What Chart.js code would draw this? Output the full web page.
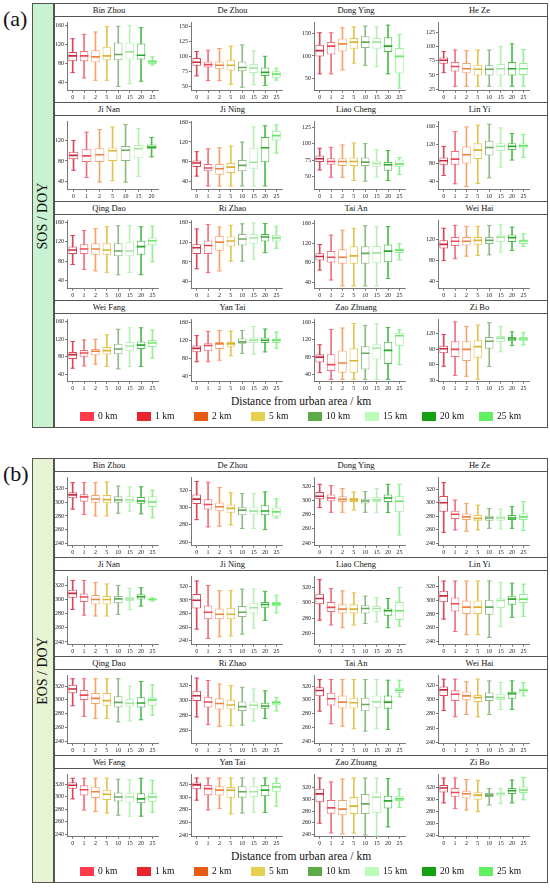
<!DOCTYPE html>
<html>
<head>
<meta charset="utf-8">
<script src="https://cdn.jsdelivr.net/npm/chart.js@4.4.1/dist/chart.umd.min.js"></script>
<style>
  html, body { margin:0; padding:0; background:#fff; }
  #fig { position:relative; width:550px; height:888px; font-family:"Liberation Serif","Times New Roman","DejaVu Serif",serif; color:#111; }
  #fig > * { position:absolute; box-sizing:border-box; }
  canvas { position:absolute; }
</style>
</head>
<body>
<div id="fig"></div>
<script>
const cities = ['Bin Zhou','De Zhou','Dong Ying','He Ze','Ji Nan','Ji Ning','Liao Cheng','Lin Yi',
  'Qing Dao','Ri Zhao','Tai An','Wei Hai','Wei Fang','Yan Tai','Zao Zhuang','Zi Bo'];
const distances = ['0','1','2','5','10','15','20','25'];
const legendLabels = ['0 km','1 km','2 km','5 km','10 km','15 km','20 km','25 km'];
const legendColors = ['#ff3a4c','#e8252d','#e65c0e','#e6d050','#5cab48','#b9fdb9','#16a016','#62f062'];
const boxColors = ['#d9475a','#f0707e','#f5a36c','#e3c54e','#8dbb82','#b5f0b5','#4cbb4c','#8ef08e'];
const medColors = ['#c8283c','#ee4858','#f08040','#d8b430','#6aa860','#9ee89e','#2aa82a','#66e866'];

// ---- (a) SOS, one row per city, one value per distance ----
const sosMin = [
  [61,50,45,45,32,38,43,77],[67,59,59,53,48,52,51,60],[60,60,69,84,79,76,60,28],[54,30,30,30,30,30,30,30],
  [62,48,39,42,39,50,88],[50,30,30,30,30,30,30,97],[60,49,49,44,43,49,44,53],[53,35,29,36,48,71,86.5,92],
  [73,63,60,57,52,57,52,79],[66,58,61.5,81.6,81.6,86,99,108],[65,45,33,33,33,33,48,86],[80,83.5,88.6,90,91,96,99.5,107],
  [54,59.4,63,58,52.5,58,58,76.8],[71.8,71.8,75,85,90.4,88.4,93.7,101.6],[44,28.4,28.4,28.4,28.4,28.4,28.4,62.5],[57,39.4,37.6,31.8,56.5,84.7,96.5,98]
];
const sosQ1 = [
  [85,85,82,87,87,88.5,88.5,79],[84,81,78,76,75,72,67,64],[99,103,110,116,118,116,109,61],[70,56,53,49,49,49,49,50],
  [83.5,78,78,80,80,85.5,103],[68.5,60,53,56.5,60,65,78.5,123],[72,68,66,66,66,65,59,65],[76,76.5,79,88.5,96,106,108,111.5],
  [95,95,93,93,90,90,93,113],[96,96,103,111.5,113.5,117,122,122],[84.6,80.7,78,78,78,79,81,100],[103,108,109,110.4,112,115.5,115.5,112],
  [74.7,80,83.7,85,85.8,94,97.6,102.4],[93,95,100,105,111.6,113.6,113.6,113.6],[67.3,47.5,44,44,51,74,64,105.5],[81.8,74.7,67,73,90.6,103.5,105,105]
];
const sosMed = [
  [96,96,94,96,99,104.5,97.5,84],[90,86,85,85,81,80,73,70],[112,122,127,131,131,131,122,99],[76,65,61,60,60,61,61,61],
  [91,90,92,100,101,104,107],[77,66.5,65,68.5,72,78.5,108,133],[77,73,73,73,72,70,68,69],[85,88.5,98,108,113.5,116,116,117],
  [103,105,105,103,101,101,110,122],[109,113.5,120.5,123,127,129,131,129],[92.5,91,91,94,99,100,103.6,105.6],[111,117,117,118.7,118.7,125,124,117.4],
  [85,88.6,92.7,94,97.6,104.5,106.6,111.5],[101.6,108,111.6,111.6,116,120,119.5,120],[79.6,62.5,66,71.4,88.4,100,95.2,128.6],[90.6,89.4,89.4,94.7,105,111,109.4,109.4]
];
const sosQ3 = [
  [104,106,108,115,124,124,122,87],[97,91,91,94,91,87,81,75],[125,131,139,140,144,140,142,118],[81,73,71,68,67,69.5,73,71],
  [98,103,105,106,109,111,112],[82,75,75,77,83,108,130,143],[82,78,78,79,79,74,72,76],[92,106,116,123,128,123,123,122],
  [110,115,117,117,117,120,122,129],[116,124,133.5,132,137,137,137,135.7],[99,103.6,107.5,113.4,113.4,114,117,109],[119,125,125,125,125,130,130,120.6],
  [90.6,95.5,97.6,102.4,109.4,113.5,115,118.4],[108,113,116,116,123.5,126,126,123.5],[86.4,86.4,94.6,100,104.8,109,115,135.5],[96.5,105,105,107,113,115,113,113]
];
const sosMax = [
  [132,141,146,157,158,160,155,94],[108,110,113,117,119,109,100,80],[152,152,163,165,167,165,169,148],[91.5,94,93,94,94,100,105,95],
  [120,136,141,146,151,143,126],[100,106,108,111.5,119.5,151,153,155],[93,94.5,98,101,100,90.5,89.5,79],[116,148,158,162,164,156,144,142],
  [133,143,147,151,153,153,151,152],[147.5,156.5,151.5,155,158,160,158.6,153],[117,136,146,150,155,153.4,153.4,118.7],[142,147.5,145.6,145.6,147.5,149.4,144,131.5],
  [115,118.4,119.8,130,142.7,146,146,141],[130,139.4,141.4,140,141.4,150,144.7,138],[108,143,146.4,156.6,152.5,156.6,147.7,142.3],[118,142,133.5,136,140.6,133,123,122]
];
const sosTicks = [
  [40,80,120,160],[50,75,100,125,150],[50,100,150],[25,50,75,100,125],
  [40,80,120],[40,80,120,160],[50,75,100,125],[40,80,120,160],
  [40,80,120,160],[40,80,120,160],[40,80,120,160],[40,80,120],
  [40,80,120,160],[40,80,120,160],[40,80,120,160],[30,60,90,120]
];
const sosRange = [
  [23,165],[42,156],[22,174],[22,142],[24,156],[22,161],[30,133],[22,169],
  [23,163],[25,164],[27,165],[26,156],[23,164],[27,165],[23,165],[27,146]
];

// ---- (b) EOS ----
const eosMin = [
  [290,282,280,280,284,287,283,277.6],[286,277.7,278.5,280,275.8,275.8,274.6,288],[290,283.4,283.4,286.6,283.4,283.4,283,251.4],[256,259.6,257.7,259.6,262,261,262,258.7],
  [286,278,276.7,276.7,279,286,290.8,297.9],[257,243.4,245.8,247,249.7,258.4,270,281],[277.4,271,267.4,271,273,275,267.4,269.6],[272.5,254.5,249.7,249.7,245.8,261.8,275,276.4],
  [291.5,276,273,273,268,269.4,271,277.8],[278,267.7,265.5,266.4,267,272.3,276,286],[283.6,265.2,261.8,258,254.5,258,257,304.5],[284.7,275.8,279,275.8,279,286,286,305],
  [296.7,278.8,276.4,274,270.5,269,269,275],[295.6,280,282.4,273.7,275,276,276,286],[259.3,242.6,241,242.6,239,237.4,253,286],[293.8,284.4,282,279.5,290.4,292.8,293.8,299]
];
const eosQ1 = [
  [306,301,299.5,298.5,299.5,299.5,298,293],[304,297.7,295.8,294,291,292,291,289.6],[301.7,299,298,298,295.8,298,298,283.4],[286.6,276,274.4,273.4,273.4,273.4,274.4,274.4],
  [302.6,296.5,293,293,294.6,298,300,299],[287.5,271.5,271.5,271.5,275,280,288.5,291],[298,288,286,286,286,288,283,277.4],[297,283.6,280,280,278.8,288.5,293.3,295.8],
  [309.7,300,294,291.5,289,290,289,291.5],[299.5,290.5,288,288,286,288,289,293.6],[305.5,291.8,287.5,287.5,283.6,288.5,287,310.3],[305,298,299,296.5,298,299.3,301,309.6],
  [312.7,302,298,294.8,292.4,291,289.5,291.9],[313,303.4,303,299.5,299.5,301,302,309],[295,275.6,273,275,275,276.6,284.4,297.5],[311,304,301,299,303.7,305,308.6,310]
];
const eosMed = [
  [311,308,305,304,303.4,303.4,302,300.5],[309.6,303.5,300.8,299,297,295.8,296,295],[306,303.5,301.7,301,299.4,301,303.5,299],[300,283,279,276.8,277.3,277.3,277.3,279],
  [308.7,303.5,300,300,301,301,304,300],[299.6,282,279,279,282,288.5,293.3,294.3],[305.7,294,291.7,291.7,292.6,292.6,289.6,289.6],[306.4,294.8,290,290,290,299.6,301.6,301.6],
  [316,307,302.3,299,296.4,295,295.5,300],[306.4,298,296,294,291.8,293.6,292.7,297],[313.7,301.6,296.7,295.8,293.3,297.2,296.7,314],[313.4,307.3,305,302.6,303.5,302.6,308.2,313],
  [318.5,311.3,308,304,299.6,299.6,296.7,299.6],[320,314,311.7,311.7,309,309,311.7,316.6],[309.5,285.5,283.4,288.6,292.3,303.8,297.5,301],[318.5,311,309,306.7,306.7,309,314,315]
];
const eosQ3 = [
  [315,312,311,311,309,309,308,309],[315,309.6,305.8,303.5,301,301,302.7,300],[312,308.6,306,303.5,302.6,305,308.6,306],[310,288,284,282,280.7,280.7,282,284],
  [314,308.7,306.4,305,305,304,307.3,301.6],[309,292,287.5,288.5,291,295.8,297,297],[312,301,298,298,297,296,292.6,301],[313.7,304,299.6,299.6,300.6,303,306.4,309],
  [322,314.6,310,310,305.3,301.4,303.8,303.8],[313,305,303,301,298.6,298.6,297,299.5],[318.5,310.3,306.4,303,303,306.4,306.4,317.6],[318,313,311,306.4,309.6,307.3,311,315.3],
  [323.4,318.5,316,311.3,307,305.5,305.5,305.5],[324,320,318,316.6,318,318,320,323],[318.4,299,299,304.3,309.5,312,306.4,306.4],[323.5,318.5,314,311.6,310,311.6,318.5,321]
];
const eosMax = [
  [329,329,329,330,324,323,323,317.6],[330,329,323,317,316,316,318,310],[323,321,317,312,312.7,317,323,323],[330,304,299,296.4,291.5,290.5,294.5,301.8],
  [327,327,323.8,322,320,315.8,316.7,302.6],[328,321.5,313.7,313.7,316,316,312.7,307],[330.4,318.7,315.7,313,308.7,307,305.7,320],[328,328,328,328,328,326,324.8,323.4],
  [330.8,330.8,330.8,330.8,330.8,320,326.9,322],[330,326.8,322,320,317.7,315.5,313,304],[329.7,329.7,329.7,329.7,329.7,329.7,328.7,328.7],[328.5,328.5,324.7,328.5,326,323.8,326,323.8],
  [329.7,329.7,329.7,329.7,328,327.3,329.7,326.3],[331,331,331,331,331,331,331,331],[336.7,330,335,336.7,336.7,336.7,335.7,318.4],[334.8,334.8,332.3,331,317.5,317.5,331.4,335.8]
];
const eosTicks = [
  [240,260,280,300,320],[260,280,300,320],[240,260,280,300,320],[240,260,280,300,320],
  [240,260,280,300,320],[240,260,280,300,320],[260,280,300,320],[240,260,280,300,320],
  [240,260,280,300,320],[260,280,300,320],[240,260,280,300,320],[240,260,280,300,320],
  [240,260,280,300,320],[240,260,280,300,320],[240,260,280,300,320],[240,260,280,300,320]
];
const eosRange = [
  [236,336],[256,334],[236,332],[236,337],[236,332],[234,334],[245,334],[235,334],
  [236,335],[242,333],[236,335],[238,333],[236,335],[237,336],[236,342],[238,340]
];

Chart.defaults.font.family = '"Liberation Serif", "Times New Roman", "DejaVu Serif", serif';
const fig = document.getElementById('fig');

function el(tag, css, text) {
  const e = document.createElement(tag);
  e.style.cssText = css;
  if (text != null) e.textContent = text;
  fig.appendChild(e);
  return e;
}

function boxChart(canvas, i, mins, q1s, meds, q3s, maxs, ticks, range) {
  const n = meds[i].length;
  const labels = distances.slice(0, n);
  const box = boxColors.slice(0, n), med = medColors.slice(0, n);
  const axisGrid = { display:true, drawOnChartArea:false, drawTicks:true, tickLength:2, color:'#555', lineWidth:0.8, offset:false };
  const tickFont = { size:6 };
  new Chart(canvas, {
    type: 'bar',
    data: {
      labels,
      datasets: [
        { type:'bar', data: mins[i].map((v, k) => [v, maxs[i][k]]), backgroundColor: box,
          barThickness: 1, grouped: false, order: 3 },
        { type:'bar', data: q1s[i].map((v, k) => [v, q3s[i][k]]), backgroundColor: '#fff',
          borderColor: box, borderWidth: 1, borderSkipped: false,
          barPercentage: 0.75, categoryPercentage: 1, grouped: false, order: 2 },
        { type:'line', data: meds[i], showLine:false, pointStyle:'line', pointRadius:4.3,
          pointBorderColor: med, pointBorderWidth: 1.6, order: 1 },
        { type:'line', data: mins[i], showLine:false, pointStyle:'line', pointRadius:2.3,
          pointBorderColor: box, pointBorderWidth: 1, order: 1 },
        { type:'line', data: maxs[i], showLine:false, pointStyle:'line', pointRadius:2.3,
          pointBorderColor: box, pointBorderWidth: 1, order: 1 }
      ]
    },
    options: {
      responsive: false,
      animation: false,
      events: [],
      layout: { padding: { top: 4, right: 1, left: 0, bottom: 0 } },
      plugins: { legend: { display:false }, tooltip: { enabled:false } },
      scales: {
        x: {
          grid: axisGrid,
          border: { display:true, color:'#555', width:0.8 },
          ticks: { font: tickFont, color:'#222', padding:1, maxRotation:0, autoSkip:false }
        },
        y: {
          min: range[0], max: range[1],
          afterBuildTicks: axis => { axis.ticks = ticks[i].map(v => ({ value: v })); },
          grid: axisGrid,
          border: { display:true, color:'#555', width:0.8 },
          ticks: { font: tickFont, color:'#222', padding:1 }
        }
      }
    }
  });
}

function panel(top, letter, yTitle, sideBg, mins, q1s, meds, q3s, maxs, ticks, ranges) {
  el('div', `left:3px;top:${top + 4}px;font-size:22px;line-height:24px;`, letter);
  el('div', `left:32px;top:${top}px;width:22px;height:425px;background:${sideBg};`);
  const side = el('div', `left:32px;top:${top + 200}px;width:22px;height:25px;display:flex;align-items:center;justify-content:center;`);
  const s = document.createElement('span');
  s.textContent = yTitle;
  s.style.cssText = 'display:block;transform:rotate(-90deg);white-space:nowrap;font-size:14px;';
  side.appendChild(s);

  for (let r = 0; r < 4; r++) {
    const rowTop = top + r * 99;
    el('div', `left:54px;top:${rowTop}px;width:494px;height:14px;border-top:1.5px solid #555;border-bottom:1.5px solid #555;`);
    for (let c = 0; c < 4; c++) {
      const i = r * 4 + c;
      const colStart = 54 + c * 123.5;
      el('div', `left:${colStart + 3}px;top:${rowTop + 1}px;width:104px;height:12px;text-align:center;font-size:8.5px;line-height:12px;`, cities[i]);
      const cv = el('canvas', `left:${colStart}px;top:${rowTop + 14}px;`);
      cv.width = 110; cv.height = r === 3 ? 79 : 85;
      boxChart(cv, i, mins, q1s, meds, q3s, maxs, ticks, ranges[i]);
    }
  }

  el('div', `left:54px;top:${top + 391}px;width:494px;text-align:center;font-size:11.5px;line-height:14px;`, 'Distance from urban area / km');
  legendLabels.forEach((lab, k) => {
    const x = 80 + k * 57;
    el('div', `left:${x}px;top:${top + 409}px;width:14px;height:9px;background:${legendColors[k]};`);
    el('div', `left:${x + 18}px;top:${top + 407}px;font-size:9.5px;line-height:13px;white-space:nowrap;`, lab);
  });

  // outer frame and the side strip border drawn last, on top
  el('div', `left:32px;top:${top}px;width:516px;height:425px;border:1.5px solid #555;`);
  el('div', `left:53px;top:${top}px;width:1.5px;height:425px;background:#555;`);
}

panel(3, '(a)', 'SOS / DOY', '#c9f2d3', sosMin, sosQ1, sosMed, sosQ3, sosMax, sosTicks, sosRange);
panel(458, '(b)', 'EOS / DOY', '#e8f3d4', eosMin, eosQ1, eosMed, eosQ3, eosMax, eosTicks, eosRange);
</script>
</body>
</html>
